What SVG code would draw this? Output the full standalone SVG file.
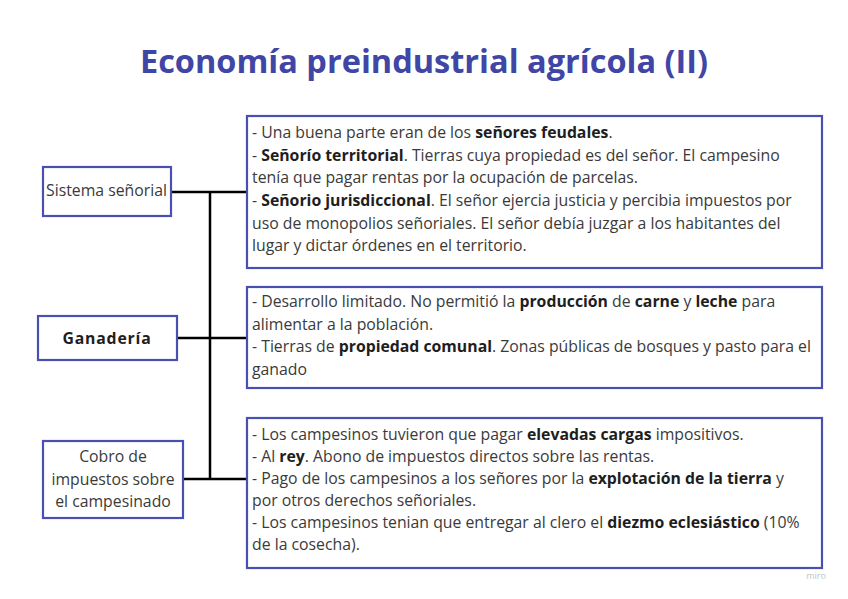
<svg xmlns="http://www.w3.org/2000/svg" width="848" height="599" viewBox="0 0 848 599">
<style>
.box{fill:#fff;stroke:#4a50b0;stroke-width:2.2}
.t{font-family:"Open Sans","Noto Sans","Liberation Sans",sans-serif;font-size:15.8px;fill:#3a3a3a}
.b{font-weight:bold;fill:#1e1e1e}
.c{text-anchor:middle}
.ln{stroke:#000;stroke-width:2.5;fill:none}
</style>
<rect width="848" height="599" fill="#fff"/>
<text x="424" y="73" text-anchor="middle" font-family="'Open Sans','Noto Sans',sans-serif" font-weight="bold" font-size="32.5" fill="#3f46a6">Economía preindustrial agrícola (II)</text>
<g id="connectors">
<path class="ln" d="M210 192V479M171 192H247M177 338H247M183 479H247"/>
</g>
<g id="n-sistema">
<rect class="box" x="43" y="167" width="128" height="49"/>
<text class="t" x="46" y="196">Sistema señorial</text>
</g>
<g id="n-ganaderia">
<rect class="box" x="38" y="316" width="139" height="44"/>
<text class="t b c" x="107" y="344" font-size="19" letter-spacing="0.8">Ganadería</text>
</g>
<g id="n-cobro">
<rect class="box" x="43" y="441" width="140" height="77"/>
<text class="t c" x="113" y="462">Cobro de</text>
<text class="t c" x="113" y="485">impuestos sobre</text>
<text class="t c" x="113" y="507">el campesinado</text>
</g>
<g id="n-box1">
<rect class="box" x="247" y="116" width="575" height="152"/>
<text class="t" x="252" y="138">- Una buena parte eran de los <tspan class="b">señores feudales</tspan>.</text>
<text class="t" x="252" y="161">- <tspan class="b">Señorío territorial</tspan>. Tierras cuya propiedad es del señor. El campesino</text>
<text class="t" x="252" y="183">tenía que pagar rentas por la ocupación de parcelas.</text>
<text class="t" x="252" y="206">- <tspan class="b">Señorio jurisdiccional</tspan>. El señor ejercia justicia y percibia impuestos por</text>
<text class="t" x="252" y="229">uso de monopolios señoriales. El señor debía juzgar a los habitantes del</text>
<text class="t" x="252" y="251">lugar y dictar órdenes en el territorio.</text>
</g>
<g id="n-box2">
<rect class="box" x="247" y="287" width="575" height="101"/>
<text class="t" x="252" y="307">- Desarrollo limitado. No permitió la <tspan class="b">producción</tspan> de <tspan class="b">carne</tspan> y <tspan class="b">leche</tspan> para</text>
<text class="t" x="252" y="330">alimentar a la población.</text>
<text class="t" x="252" y="352">- Tierras de <tspan class="b">propiedad comunal</tspan>. Zonas públicas de bosques y pasto para el</text>
<text class="t" x="252" y="375">ganado</text>
</g>
<g id="n-box3">
<rect class="box" x="247" y="418" width="575" height="150"/>
<text class="t" x="252" y="440">- Los campesinos tuvieron que pagar <tspan class="b">elevadas cargas</tspan> impositivos.</text>
<text class="t" x="252" y="462">- Al <tspan class="b">rey</tspan>. Abono de impuestos directos sobre las rentas.</text>
<text class="t" x="252" y="484">- Pago de los campesinos a los señores por la <tspan class="b">explotación de la tierra</tspan> y</text>
<text class="t" x="252" y="506">por otros derechos señoriales.</text>
<text class="t" x="252" y="528">- Los campesinos tenian que entregar al clero el <tspan class="b">diezmo eclesiástico</tspan> (10%</text>
<text class="t" x="252" y="550">de la cosecha).</text>
</g>
<text x="816" y="579" text-anchor="middle" font-family="'Open Sans',sans-serif" font-size="9" fill="#c4c4c4">miro</text>
</svg>
